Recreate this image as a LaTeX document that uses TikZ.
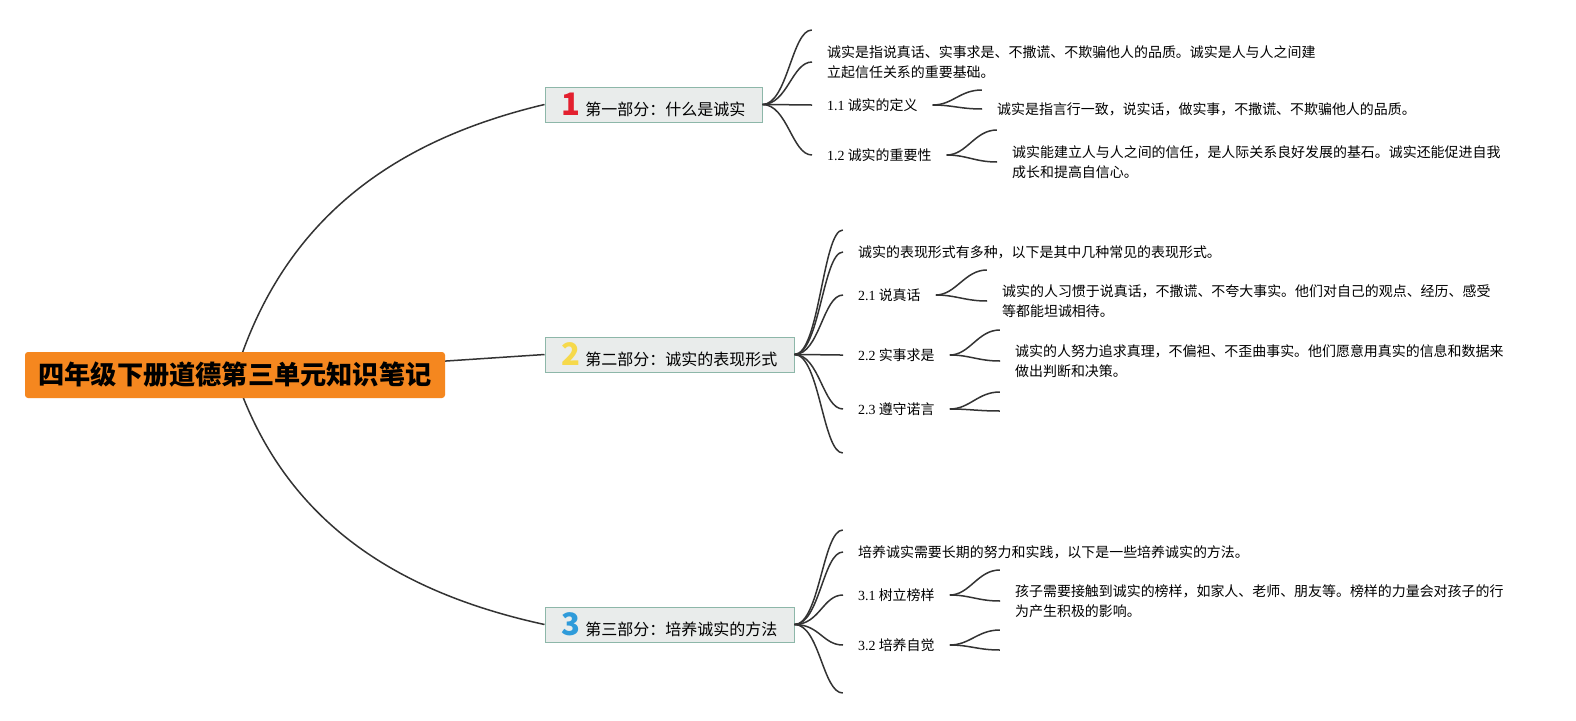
\documentclass[tikz,border=0pt]{standalone}
\usepackage{fontspec}
\setmainfont{Noto Sans CJK SC}
\newfontfamily\numfont{Liberation Serif}
\usetikzlibrary{backgrounds}
\definecolor{rootorange}{HTML}{F5871F}
\definecolor{partfill}{HTML}{E9ECEB}
\definecolor{partline}{HTML}{8DB7A9}
\definecolor{linkgray}{HTML}{333333}
\definecolor{numred}{HTML}{E3202F}
\definecolor{numyellow}{HTML}{F6D94B}
\definecolor{numblue}{HTML}{2E9BDA}
\newcommand{\partno}[2]{{\fontsize{31}{31}\selectfont\bfseries\color{#1}#2}\hspace{5pt}}
\tikzset{
  rootbox/.style={fill=rootorange, rounded corners=3pt, minimum width=420pt, minimum height=46pt,
    inner sep=0pt, font=\fontsize{26.2}{28}\selectfont\bfseries},
  partbox/.style={fill=partfill, draw=partline, line width=1pt, minimum height=35pt,
    inner sep=0pt, font=\fontsize{16}{18}\selectfont},
  leaf/.style={anchor=west, inner xsep=15pt, inner ysep=2pt, font=\fontsize{13.95}{20.5}\selectfont},
  note/.style={leaf, align=left},
  stub/.style={inner sep=0pt, minimum size=0pt},
  link/.style={draw=linkgray, line width=1.5pt},
}
\begin{document}
\begin{tikzpicture}[x=1pt,y=-1pt]
\useasboundingbox (0,0) rectangle (1576,720);
\begin{scope}[on background layer]
\fill[white] (0,0) rectangle (1576,720);
\end{scope}

% root and the three parts
\node[rootbox] (root) at (235,375) {四年级下册道德第三单元知识笔记};
\node[partbox, minimum width=217pt] (b1) at (653.5,104.5) {\partno{numred}{1}第一部分：什么是诚实};
\node[partbox, minimum width=249pt] (b2) at (669.5,354.5) {\partno{numyellow}{2}第二部分：诚实的表现形式};
\node[partbox, minimum width=249pt] (b3) at (669.5,624.5) {\partno{numblue}{3}第三部分：培养诚实的方法};

\begin{scope}[on background layer]
\draw[link] (root.center) .. controls (283,218) and (395,140) .. (b1.west);
\draw[link] (root.center) -- (b2.west);
\draw[link] (root.center) .. controls (283,520) and (395,592) .. (b3.west);
\end{scope}

% part 1
\node[stub] (b1c0) at (812,30) {};
\node[note] (b1t) at (812,62) {诚实是指说真话、实事求是、不撒谎、不欺骗他人的品质。诚实是人与人之间建\\立起信任关系的重要基础。};
\node[leaf] (s11) at (812,105) {{\numfont 1.1} 诚实的定义};
\node[leaf] (s12) at (812,155) {{\numfont 1.2} 诚实的重要性};
\node[stub] (s11c0) at (982,90) {};
\node[note] (s11t) at (982,109) {诚实是指言行一致，说实话，做实事，不撒谎、不欺骗他人的品质。};
\node[stub] (s12c0) at (997,130) {};
\node[note] (s12t) at (997,162) {诚实能建立人与人之间的信任，是人际关系良好发展的基石。诚实还能促进自我\\成长和提高自信心。};

% part 2
\node[stub] (b2c0) at (843,230) {};
\node[note] (b2t) at (843,252) {诚实的表现形式有多种，以下是其中几种常见的表现形式。};
\node[leaf] (s21) at (843,295) {{\numfont 2.1} 说真话};
\node[leaf] (s22) at (843,355) {{\numfont 2.2} 实事求是};
\node[leaf] (s23) at (843,409) {{\numfont 2.3} 遵守诺言};
\node[stub] (b2c5) at (843,453) {};
\node[stub] (s21c0) at (987,270) {};
\node[note] (s21t) at (987,301) {诚实的人习惯于说真话，不撒谎、不夸大事实。他们对自己的观点、经历、感受\\等都能坦诚相待。};
\node[stub] (s22c0) at (1000,330) {};
\node[note] (s22t) at (1000,361) {诚实的人努力追求真理，不偏袒、不歪曲事实。他们愿意用真实的信息和数据来\\做出判断和决策。};
\node[stub] (s23c0) at (1000,392) {};
\node[stub] (s23c1) at (1000,411) {};

% part 3
\node[stub] (b3c0) at (843,530) {};
\node[note] (b3t) at (843,552) {培养诚实需要长期的努力和实践，以下是一些培养诚实的方法。};
\node[leaf] (s31) at (843,595) {{\numfont 3.1} 树立榜样};
\node[leaf] (s32) at (843,645) {{\numfont 3.2} 培养自觉};
\node[stub] (b3c4) at (843,693) {};
\node[stub] (s31c0) at (1000,570) {};
\node[note] (s31t) at (1000,601) {孩子需要接触到诚实的榜样，如家人、老师、朋友等。榜样的力量会对孩子的行\\为产生积极的影响。};
\node[stub] (s32c0) at (1000,630) {};
\node[stub] (s32c1) at (1000,650) {};

% connectors
\foreach \c in {b1c0,b1t,s11,s12}
  \draw[link] (b1.east) .. controls +(25,0) and +(-20,0) .. (\c.west);
\foreach \c in {b2c0,b2t,s21,s22,s23,b2c5}
  \draw[link] (b2.east) .. controls +(25,0) and +(-20,0) .. (\c.west);
\foreach \c in {b3c0,b3t,s31,s32,b3c4}
  \draw[link] (b3.east) .. controls +(25,0) and +(-20,0) .. (\c.west);
\foreach \p/\c in {s11/s11c0,s11/s11t,s12/s12c0,s12/s12t,s21/s21c0,s21/s21t,s22/s22c0,s22/s22t,
    s23/s23c0,s23/s23c1,s31/s31c0,s31/s31t,s32/s32c0,s32/s32c1}
  \draw[link] (\p.east) .. controls +(20,0) and +(-22,0) .. (\c.west);
\end{tikzpicture}
\end{document}
